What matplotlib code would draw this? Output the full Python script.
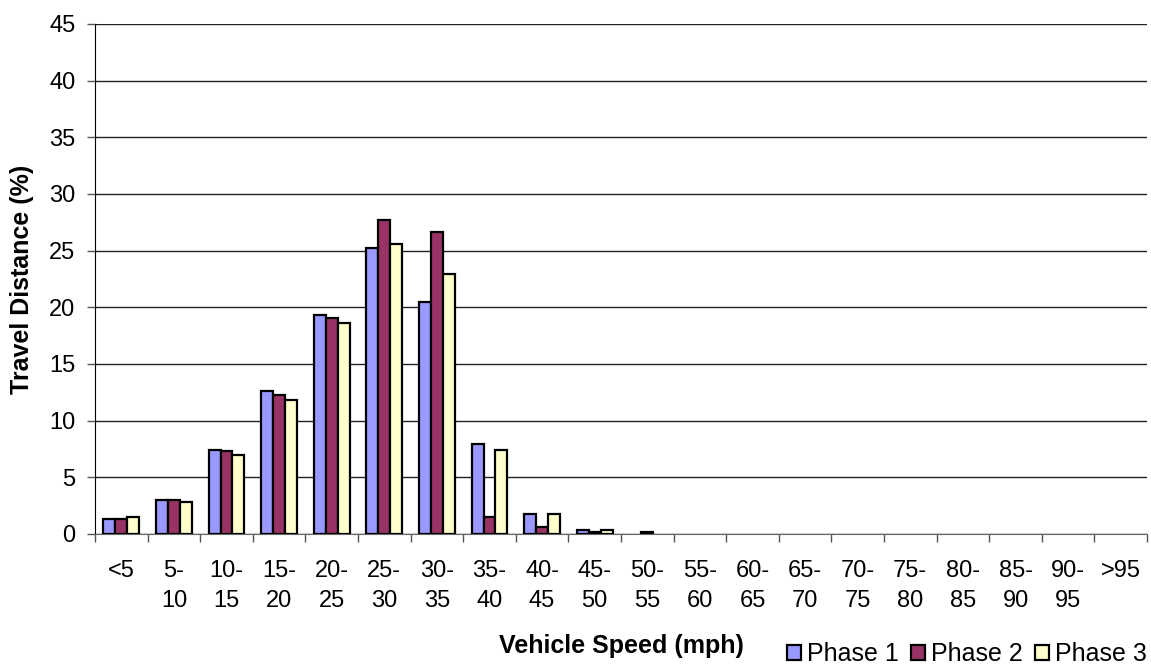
import matplotlib.pyplot as plt
import numpy as np

plt.rcParams['font.family'] = ['Liberation Sans', 'DejaVu Sans']

# speed bins (mph) and share of travel distance (%) per phase
speed_bins = ['<5', '5-\n10', '10-\n15', '15-\n20', '20-\n25', '25-\n30', '30-\n35',
              '35-\n40', '40-\n45', '45-\n50', '50-\n55', '55-\n60', '60-\n65', '65-\n70',
              '70-\n75', '75-\n80', '80-\n85', '85-\n90', '90-\n95', '>95']
phase1 = [1.3, 3.0, 7.45, 12.6, 19.35, 25.25, 20.5, 7.95, 1.8, 0.33, 0, 0, 0, 0, 0, 0, 0, 0, 0, 0]
phase2 = [1.3, 3.0, 7.35, 12.3, 19.05, 27.75, 26.65, 1.47, 0.65, 0.15, 0.18, 0, 0, 0, 0, 0, 0, 0, 0, 0]
phase3 = [1.5, 2.8, 6.95, 11.8, 18.65, 25.55, 22.95, 7.45, 1.8, 0.33, 0, 0, 0, 0, 0, 0, 0, 0, 0, 0]
series = [('Phase 1', phase1, '#9999FF'),
          ('Phase 2', phase2, '#993366'),
          ('Phase 3', phase3, '#FFFFCC')]

fig = plt.figure(figsize=(11.51, 6.66), dpi=100)
ax = fig.add_axes([95 / 1151, 1 - 534 / 666, 1052 / 1151, 510 / 666])

x = np.arange(len(speed_bins))
w = 0.228
for i, (name, vals, col) in enumerate(series):
    # no outline on empty bins
    lw = [1.6 if v > 0 else 0 for v in vals]
    ax.bar(x + (i - 1) * w, vals, width=w, color=col, edgecolor='black',
           linewidth=lw, label=name, zorder=3)

ax.set_xlim(-0.5, len(speed_bins) - 0.5)
ax.set_ylim(0, 45)
ax.set_yticks(np.arange(0, 46, 5))
ax.yaxis.grid(True, color='#222222', linewidth=1.0, zorder=0)

ax.set_xticks(x)
ax.set_xticklabels(speed_bins, fontsize=17, linespacing=1.42, va='top')
ax.set_xticks(np.arange(-0.5, len(speed_bins)), minor=True)
ax.tick_params(axis='x', which='major', length=0, pad=19)
ax.tick_params(axis='x', which='minor', length=6, width=1, color='#555555')
ax.tick_params(axis='y', length=6, width=1, color='#555555', labelsize=17, pad=8)

for s in ['top', 'right']:
    ax.spines[s].set_visible(False)
ax.spines['left'].set_color('black')
ax.spines['bottom'].set_color('#666666')

fig.text(22 / 1151, 1 - 279 / 666, 'Travel Distance (%)', fontsize=18,
         fontweight='bold', rotation=90, ha='center', va='center')
fig.text(621 / 1151, 1 - 646 / 666, 'Vehicle Speed (mph)', fontsize=18,
         fontweight='bold', ha='center', va='center')

fig.legend(loc='center', bbox_to_anchor=(967 / 1151, 1 - 654 / 666), ncol=3,
           frameon=False, fontsize=18, handlelength=0.55, handleheight=0.55,
           handletextpad=0.25, columnspacing=0.5, borderpad=0)

fig.savefig('out.png', dpi=100)
